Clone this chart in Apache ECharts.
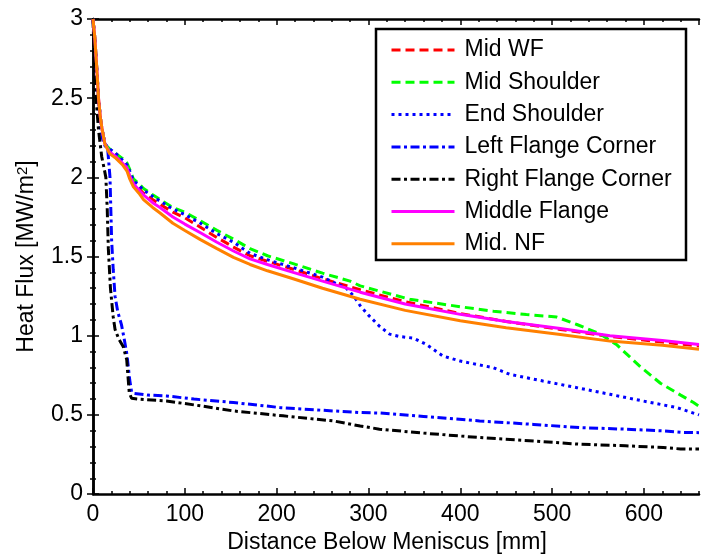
<!DOCTYPE html>
<html>
<head>
<meta charset="utf-8">
<script src="https://cdn.jsdelivr.net/npm/echarts@6/dist/echarts.min.js"></script>
<style>html,body{margin:0;padding:0;background:#fff}#c{width:713px;height:559px}</style>
</head>
<body>
<div id="c"></div>
<script>
// ---- data ----
const seriesNames = ['Mid WF','Mid Shoulder','End Shoulder','Left Flange Corner','Right Flange Corner','Middle Flange','Mid. NF'];
const xTickLabels = [0,100,200,300,400,500,600];
const yTickLabels = [0,0.5,1,1.5,2,2.5,3];

const midWF_x = [0,2,4,6,8,10,13,18,25,32,37,40,44,50,55,65,73,87,100,117,135,153,171,190,218,250,291,340,400,450,509,563,620,660];
const midWF_y = [3.0,2.88,2.7,2.5,2.38,2.3,2.21,2.17,2.14,2.1,2.07,2.02,1.97,1.93,1.9,1.86,1.83,1.78,1.745,1.685,1.62,1.56,1.505,1.47,1.42,1.36,1.29,1.215,1.14,1.09,1.04,0.995,0.96,0.935];

const midShoulder_x = [0,2,4,6,8,10,13,18,25,32,37,40,44,50,55,65,73,87,100,117,135,153,171,190,218,250,280,291,345,400,436,472,505,527,552,570,596,618,640,654,660];
const midShoulder_y = [3.0,2.88,2.7,2.5,2.38,2.3,2.21,2.18,2.15,2.12,2.09,2.05,1.99,1.96,1.93,1.89,1.86,1.81,1.78,1.725,1.665,1.61,1.55,1.505,1.455,1.395,1.345,1.315,1.23,1.183,1.155,1.134,1.118,1.071,1.012,0.945,0.805,0.7,0.625,0.578,0.555];

const endShoulder_x = [0,2,4,6,8,10,13,18,25,32,37,40,44,50,55,65,73,87,100,117,135,153,171,190,218,250,276,284,291,300,312,323,334,349,363,381,400,418,436,454,490,527,563,599,636,660];
const endShoulder_y = [3.0,2.88,2.7,2.5,2.38,2.3,2.21,2.18,2.15,2.11,2.08,2.04,1.98,1.95,1.92,1.88,1.85,1.8,1.765,1.71,1.645,1.59,1.52,1.48,1.43,1.37,1.3,1.25,1.19,1.13,1.06,1.01,0.995,0.985,0.945,0.872,0.84,0.819,0.798,0.756,0.714,0.672,0.63,0.588,0.546,0.5];

const leftFlange_x = [0,2,4,7,10,13,16,18.5,20.3,22,24,27,31,34,37,40,42,45,60,80,110,153,189,204,262,291,312,360,421,480,530,580,621,640,660];
const leftFlange_y = [3.0,2.8,2.53,2.35,2.25,2.2,2.18,2.0,1.6,1.42,1.25,1.15,1.07,0.98,0.88,0.72,0.645,0.636,0.625,0.62,0.6,0.578,0.556,0.546,0.525,0.515,0.512,0.49,0.462,0.44,0.42,0.41,0.399,0.39,0.388];

const rightFlange_x = [0,2,4,6,9.5,12,14,15.5,16.7,19,22,24,28,33,36.7,38,39.5,42,50,80,120,153,207,262,291,312,360,421,480,530,580,621,640,660];
const rightFlange_y = [3.0,2.62,2.45,2.3,2.13,2.06,2.0,1.8,1.55,1.3,1.12,1.04,0.98,0.93,0.85,0.75,0.64,0.605,0.6,0.588,0.555,0.525,0.494,0.462,0.43,0.41,0.385,0.357,0.335,0.315,0.305,0.294,0.285,0.284];

const midFlange_x = [0,2,4,6,8,10,13,18,25,32,37,40,44,50,55,65,73,87,100,117,135,153,171,190,218,250,291,340,400,450,509,563,620,660];
const midFlange_y = [3.0,2.88,2.7,2.5,2.38,2.3,2.21,2.16,2.13,2.09,2.06,2.01,1.96,1.92,1.89,1.84,1.81,1.75,1.705,1.65,1.59,1.535,1.485,1.45,1.4,1.345,1.275,1.2,1.135,1.09,1.045,1.0,0.97,0.945];

const midNF_x = [0,2,4,6,8,10,13,18,25,32,37,40,44,50,55,65,73,87,100,117,135,153,171,190,218,250,291,340,400,450,509,563,620,660];
const midNF_y = [3.0,2.88,2.7,2.5,2.38,2.3,2.21,2.15,2.12,2.08,2.04,1.99,1.94,1.9,1.86,1.81,1.775,1.71,1.665,1.607,1.55,1.495,1.45,1.41,1.36,1.3,1.23,1.16,1.095,1.05,1.008,0.966,0.94,0.915];

// ---- build ----
function pairs(xs, ys){ return xs.map((x,i)=>[x, ys[i]]); }
const FONT = 'Liberation Sans, Arial, Helvetica, sans-serif';
const FS = 23;
const styles = [
  {color:'#ff0000', type:[9,5]},
  {color:'#00ff00', type:[9,5]},
  {color:'#0000ff', type:[3,4]},
  {color:'#0000ff', type:[9,3.5,3,3.5]},
  {color:'#000000', type:[9,3.5,3,3.5]},
  {color:'#ff00ff', type:'solid'},
  {color:'#ff8000', type:'solid'}
];
const datasets = [
  pairs(midWF_x, midWF_y),
  pairs(midShoulder_x, midShoulder_y),
  pairs(endShoulder_x, endShoulder_y),
  pairs(leftFlange_x, leftFlange_y),
  pairs(rightFlange_x, rightFlange_y),
  pairs(midFlange_x, midFlange_y),
  pairs(midNF_x, midNF_y)
];
const series = seriesNames.map((n,i)=>({
  name:n, type:'line', xAxisIndex:0, yAxisIndex:0,
  data: datasets[i], symbol:'none', showSymbol:false, smooth:false,
  lineStyle:{color:styles[i].color, width:3, type:styles[i].type},
  itemStyle:{color:styles[i].color},
  emphasis:{disabled:true}
}));

const axisLineStyle = {show:true, lineStyle:{color:'#000', width:2.5}};
function xAx(pos, major){
  return {
    type:'value', position:pos, min:0, max:660, interval: major?100:20,
    axisLine: major ? axisLineStyle : {show:false},
    axisTick:{show:true, inside:true, length: major?6:3, lineStyle:{color:'#000', width:1.5}},
    axisLabel: (major && pos==='bottom') ? {show:true, showMaxLabel:false, fontSize:FS, fontFamily:FONT, color:'#000', margin:9,
        formatter: v => xTickLabels.indexOf(v) >= 0 ? String(v) : ''} : {show:false},
    splitLine:{show:false},
    name: (major && pos==='bottom') ? 'Distance Below Meniscus [mm]' : '',
    nameLocation:'middle', nameGap:36,
    nameTextStyle:{fontSize:FS, fontFamily:FONT, color:'#000', padding:[0,18,0,0]}
  };
}
function yAx(pos){
  return {
    type:'value', position:pos, min:0, max:3, interval:0.5,
    axisLine: axisLineStyle,
    axisTick:{show:true, inside:true, length:6, lineStyle:{color:'#000', width:1.5}},
    minorTick:{show:true, splitNumber:5, length:3, lineStyle:{color:'#000', width:1.5}},
    axisLabel: pos==='left' ? {show:true, fontSize:FS, fontFamily:FONT, color:'#000', margin:10,
        formatter: v => yTickLabels.indexOf(v) >= 0 ? String(v) : ''} : {show:false},
    splitLine:{show:false},
    name: pos==='left' ? 'Heat Flux [MW/m{s|2}]' : '',
    nameLocation:'middle', nameGap:49, nameRotate:90,
    nameTextStyle:{fontSize:FS, fontFamily:FONT, color:'#000',
      rich:{s:{fontSize:15, fontFamily:FONT, color:'#000', verticalAlign:'top', lineHeight:15, padding:[0,0,10,0]}}}
  };
}

const chart = echarts.init(document.getElementById('c'), null, {renderer:'canvas'});
chart.setOption({
  animation:false,
  backgroundColor:'#fff',
  grid:{left:93, top:19, right:14, bottom:64, containLabel:false},
  xAxis:[xAx('bottom',true), xAx('bottom',false), xAx('top',true), xAx('top',false)],
  yAxis:[yAx('left'), yAx('right')],
  graphic:[{type:'rect', z:50, silent:true,
    shape:{x:376, y:29, width:310, height:231},
    style:{fill:'#fff', stroke:'#000', lineWidth:2.5}}],
  legend:{
    show:true, orient:'vertical', left:376, top:29, z:60,
    padding:[9,10,4,14], itemWidth:63, itemHeight:14, itemGap:8.3,
    data: seriesNames,
    selectedMode:false,
    itemStyle:{opacity:0, borderWidth:0},
    lineStyle:{width:3},
    textStyle:{fontSize:FS, fontFamily:FONT, color:'#000', lineHeight:24, padding:[0,0,0,5]}
  },
  series: series
});
</script>
</body>
</html>
